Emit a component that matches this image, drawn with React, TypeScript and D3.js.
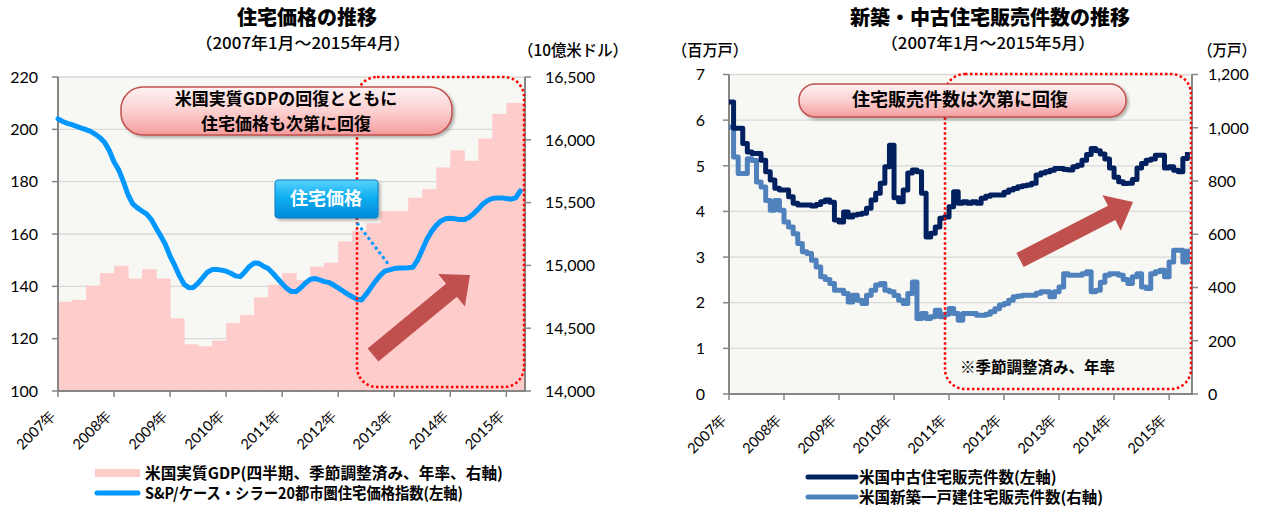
import * as d3 from "d3";

// ---- left chart: house prices vs real GDP ----
// real GDP, quarterly (billion USD, SAAR), one bar per quarter from the 2007 start
const gdpQuarterly = [
  14711, 14726, 14838, 14939, 14996, 14895, 14970, 14896, 14578, 14372, 14356, 14402,
  14541, 14605, 14746, 14846, 14939, 14882, 14990, 15021, 15191, 15275, 15336, 15431,
  15433, 15538, 15607, 15780, 15916, 15832, 16010, 16206, 16294, 16290,
];
// S&P/Case-Shiller 20-city composite, monthly 2007/01 - 2015/04
const caseShiller = [
  204.0, 203.0, 202.3, 201.8, 201.1, 200.5, 199.9, 199.2, 198.1, 196.8, 195.0, 191.8,
  187.5, 184.5, 180.0, 175.0, 171.5, 170.0, 168.8, 167.6, 165.5, 162.3, 159.2, 156.0,
  151.5, 148.0, 144.0, 140.8, 139.5, 139.6, 141.2, 143.3, 145.4, 146.4, 146.4, 146.2,
  145.8, 145.0, 144.0, 143.7, 145.5, 147.6, 148.9, 148.8, 147.7, 146.8, 145.0, 143.0,
  141.0, 139.2, 138.0, 138.0, 139.5, 141.3, 142.6, 143.0, 142.5, 141.8, 141.5, 140.5,
  139.4, 138.2, 137.0, 136.0, 135.1, 134.8, 137.0, 139.5, 142.0, 144.2, 145.8, 146.3,
  146.8, 147.0, 147.0, 147.1, 147.3, 150.0, 154.0, 158.0, 161.0, 163.3, 165.0, 165.8,
  166.0, 165.8, 165.5, 165.5, 166.3, 167.8, 169.5, 171.5, 172.8, 173.6, 173.8, 173.8,
  173.6, 173.3, 173.8, 176.5,
];
const yearLabels = ["2007年", "2008年", "2009年", "2010年", "2011年", "2012年", "2013年", "2014年", "2015年"];
const priceTicks = [100, 120, 140, 160, 180, 200, 220];
const gdpTicks = [14000, 14500, 15000, 15500, 16000, 16500];

// ---- right chart: home sales ----
// existing home sales (million, SAAR), monthly 2007/01 - 2015/05
const existingSales = [
  6.40, 5.82, 5.82, 5.49, 5.30, 5.27, 5.27, 5.12, 4.87, 4.69, 4.51, 4.47,
  4.47, 4.32, 4.18, 4.14, 4.14, 4.14, 4.12, 4.15, 4.21, 4.25, 4.20, 3.81,
  3.77, 3.99, 3.88, 3.92, 3.94, 3.96, 4.07, 4.25, 4.40, 4.62, 4.98, 5.45,
  4.30, 4.21, 4.47, 4.84, 4.91, 4.87, 4.40, 3.44, 3.52, 3.66, 3.85, 3.88,
  4.10, 4.43, 4.18, 4.21, 4.18, 4.21, 4.18, 4.29, 4.33, 4.36, 4.36, 4.36,
  4.42, 4.47, 4.50, 4.54, 4.56, 4.58, 4.62, 4.80, 4.84, 4.87, 4.90, 4.94,
  4.94, 4.92, 4.91, 4.98, 5.01, 5.12, 5.25, 5.38, 5.33, 5.26, 5.15, 4.95,
  4.75, 4.65, 4.61, 4.62, 4.70, 4.95, 5.05, 5.12, 5.15, 5.23, 5.23, 4.95,
  4.98, 4.90, 4.87, 5.16, 5.30,
];
// new single-family home sales (right axis), monthly 2007/01 - 2015/05
const newSales = [
  1002, 890, 828, 828, 884, 877, 796, 777, 727, 690, 727, 690,
  646, 627, 602, 565, 534, 528, 502, 477, 440, 430, 415, 390,
  390, 377, 346, 371, 352, 340, 371, 390, 409, 415, 390, 384,
  370, 352, 340, 377, 421, 284, 302, 284, 290, 315, 290, 300,
  321, 302, 277, 302, 302, 302, 296, 296, 300, 309, 320, 334,
  340, 352, 365, 368, 371, 371, 371, 378, 384, 384, 365, 384,
  402, 452, 446, 446, 446, 452, 459, 384, 390, 420, 446, 452,
  452, 446, 430, 415, 440, 452, 402, 396, 452, 459, 465, 440,
  496, 540, 540, 496, 546,
];
const salesTicks = [0, 1, 2, 3, 4, 5, 6, 7];
const newSalesTicks = [0, 200, 400, 600, 800, 1000, 1200];

const JP = '"Noto Sans CJK JP", sans-serif';
const NUM = 'Lato, "DejaVu Sans", sans-serif';
const AXIS = "#868686";
const GRID = "#d9d9d9";
const PLOT_BG = "#f7f7f3";

function arrowPoints(x1: number, y1: number, x2: number, y2: number, shaft: number, headW: number, headL: number) {
  const len = Math.hypot(x2 - x1, y2 - y1);
  const ux = (x2 - x1) / len, uy = (y2 - y1) / len;
  const nx = -uy, ny = ux;
  const bx = x2 - ux * headL, by = y2 - uy * headL;
  const pts = [
    [x1 + nx * shaft / 2, y1 + ny * shaft / 2],
    [bx + nx * shaft / 2, by + ny * shaft / 2],
    [bx + nx * headW / 2, by + ny * headW / 2],
    [x2, y2],
    [bx - nx * headW / 2, by - ny * headW / 2],
    [bx - nx * shaft / 2, by - ny * shaft / 2],
    [x1 - nx * shaft / 2, y1 - ny * shaft / 2],
  ];
  return pts.map((p) => p.join(",")).join(" ");
}

const fmt = d3.format(",");

export default function App() {
  // left chart scales
  const xL = d3.scaleLinear().domain([0, 100]).range([58, 525]);
  const yPrice = d3.scaleLinear().domain([100, 220]).range([391, 77]);
  const yGdp = d3.scaleLinear().domain([14000, 16500]).range([391, 77]);
  const priceLine = d3
    .line<number>()
    .x((d, i) => xL(i))
    .y((d) => yPrice(d))
    .curve(d3.curveLinear);

  // right chart scales
  const xR = d3.scaleLinear().domain([0, 101]).range([729, 1192]);
  const ySales = d3.scaleLinear().domain([0, 7]).range([394, 74.5]);
  const yNew = d3.scaleLinear().domain([0, 1200]).range([394, 74.5]);
  const existingLine = d3
    .line<number>()
    .x((d, i) => xR(i))
    .y((d) => ySales(d))
    .curve(d3.curveStepAfter);
  const newLine = d3
    .line<number>()
    .x((d, i) => xR(i))
    .y((d) => yNew(d))
    .curve(d3.curveStepAfter);

  const [l0, l1] = xL.range();
  const [r0, r1] = xR.range();

  return (
    <svg width={1264} height={506} style={{ position: "absolute", left: 0, top: 0, background: "#fff" }}>
      <defs>
        <linearGradient id="pinkBox" x1="0" y1="0" x2="0" y2="1">
          <stop offset="0" stopColor="#fff2f2" />
          <stop offset="0.5" stopColor="#fbd0d0" />
          <stop offset="1" stopColor="#f59d9d" />
        </linearGradient>
        <linearGradient id="blueBox" x1="0" y1="0" x2="0" y2="1">
          <stop offset="0" stopColor="#5ad4ff" />
          <stop offset="0.45" stopColor="#10aef0" />
          <stop offset="1" stopColor="#0088d8" />
        </linearGradient>
        <filter id="shadow" x="-10%" y="-20%" width="130%" height="160%">
          <feDropShadow dx="2" dy="2" stdDeviation="1.5" floodColor="#000" floodOpacity="0.3" />
        </filter>
        <clipPath id="leftClip">
          <rect x={l0} y={77} width={l1 - l0} height={314} />
        </clipPath>
      </defs>

      {/* ================= LEFT CHART ================= */}
      <text x={307} y={25} textAnchor="middle" fontFamily={JP} fontWeight={900} fontSize={20}>
        住宅価格の推移
      </text>
      <text x={303} y={49} textAnchor="middle" fontFamily={JP} fontWeight={500} fontSize={16} textLength={215} lengthAdjust="spacingAndGlyphs">
        （2007年1月～2015年4月）
      </text>
      <text x={628} y={56} textAnchor="end" fontFamily={JP} fontWeight={500} fontSize={16} textLength={110} lengthAdjust="spacingAndGlyphs">
        （10億米ドル）
      </text>

      <rect x={l0} y={77} width={l1 - l0} height={314} fill={PLOT_BG} />
      {priceTicks.slice(1).map((t) => (
        <line key={t} x1={l0} x2={l1} y1={yPrice(t)} y2={yPrice(t)} stroke={GRID} strokeWidth={1.3} />
      ))}
      {/* GDP quarterly steps */}
      <g clipPath="url(#leftClip)">
        {gdpQuarterly.map((v, i) => {
          const a = xL(i * 3);
          const b = xL(Math.min((i + 1) * 3, 100));
          return <rect key={i} x={a} y={yGdp(v)} width={b - a + 0.5} height={391 - yGdp(v)} fill="#ffcccc" />;
        })}
      </g>

      {/* axes */}
      <line x1={l0} x2={l0} y1={77} y2={392} stroke={AXIS} strokeWidth={2} />
      <line x1={l1} x2={l1} y1={77} y2={392} stroke={AXIS} strokeWidth={2} />
      <line x1={l0} x2={l1} y1={391} y2={391} stroke={AXIS} strokeWidth={2} />
      {priceTicks.map((t) => (
        <g key={t}>
          <line x1={l0 - 6} x2={l0} y1={yPrice(t)} y2={yPrice(t)} stroke={AXIS} strokeWidth={1.5} />
          <text x={38} y={yPrice(t)} dy="0.36em" textAnchor="end" fontFamily={NUM} fontSize={16}>
            {t}
          </text>
        </g>
      ))}
      {gdpTicks.map((t) => (
        <g key={t}>
          <line x1={l1} x2={l1 + 6} y1={yGdp(t)} y2={yGdp(t)} stroke={AXIS} strokeWidth={1.5} />
          <text x={545} y={yGdp(t)} dy="0.36em" textAnchor="start" fontFamily={NUM} fontSize={16}>
            {fmt(t)}
          </text>
        </g>
      ))}
      {yearLabels.map((lab, i) => (
        <g key={lab}>
          <line x1={xL(i * 12)} x2={xL(i * 12)} y1={391} y2={397} stroke={AXIS} strokeWidth={1.5} />
          <text
            transform={`translate(${xL(i * 12) - 1},416) rotate(-45)`}
            textAnchor="end"
            fontFamily={NUM}
            fontSize={14.5}
          >
            {lab}
          </text>
        </g>
      ))}

      {/* price line */}
      <path
        d={priceLine(caseShiller) || ""}
        fill="none"
        stroke="#0098ff"
        strokeWidth={5}
        strokeLinejoin="round"
        strokeLinecap="round"
      />

      {/* annotations */}
      <rect x={357} y={77} width={167} height={310} rx={20} fill="none" stroke="#ff0000" strokeWidth={2.5} strokeDasharray="2.5 2.5" />
      <line x1={357} y1={223} x2={389} y2={265} stroke="#0098ff" strokeWidth={3} strokeDasharray="3 3" />
      <g filter="url(#shadow)">
        <rect x={121} y={87} width={331} height={48} rx={22} fill="url(#pinkBox)" stroke="#c0504d" strokeWidth={1.5} />
      </g>
      <text x={286} y={99} dy="0.35em" textAnchor="middle" fontFamily={JP} fontWeight={700} fontSize={17}>
        米国実質GDPの回復とともに
      </text>
      <text x={286} y={124} dy="0.35em" textAnchor="middle" fontFamily={JP} fontWeight={700} fontSize={17}>
        住宅価格も次第に回復
      </text>
      <g filter="url(#shadow)">
        <rect x={275} y={180} width={103} height={38} rx={3} fill="url(#blueBox)" stroke="#0a7cc4" strokeWidth={1} />
      </g>
      <text x={326} y={199} dy="0.36em" textAnchor="middle" fontFamily={JP} fontWeight={700} fontSize={18} fill="#fff">
        住宅価格
      </text>
      <polygon points={arrowPoints(373, 355, 470, 275, 17, 42, 24)} fill="#c0504d" />

      {/* legend */}
      <rect x={95} y={469} width={45} height={8} fill="#ffcccc" />
      <text x={145} y={473} dy="0.36em" fontFamily={JP} fontWeight={700} fontSize={15.5} textLength={358} lengthAdjust="spacingAndGlyphs">
        米国実質GDP(四半期、季節調整済み、年率、右軸)
      </text>
      <line x1={97} x2={138} y1={493} y2={493} stroke="#0098ff" strokeWidth={5} strokeLinecap="round" />
      <text x={145} y={493} dy="0.36em" fontFamily={JP} fontWeight={700} fontSize={15.5} textLength={318} lengthAdjust="spacingAndGlyphs">
        S&P/ケース・シラー20都市圏住宅価格指数(左軸)
      </text>

      {/* ================= RIGHT CHART ================= */}
      <text x={990} y={25} textAnchor="middle" fontFamily={JP} fontWeight={900} fontSize={20}>
        新築・中古住宅販売件数の推移
      </text>
      <text x={988} y={49} textAnchor="middle" fontFamily={JP} fontWeight={500} fontSize={16} textLength={214} lengthAdjust="spacingAndGlyphs">
        （2007年1月～2015年5月）
      </text>
      <text x={672} y={56} fontFamily={JP} fontWeight={500} fontSize={16} textLength={76} lengthAdjust="spacingAndGlyphs">
        （百万戸）
      </text>
      <text x={1256} y={56} textAnchor="end" fontFamily={JP} fontWeight={500} fontSize={16} textLength={58} lengthAdjust="spacingAndGlyphs">
        （万戸）
      </text>

      <rect x={r0} y={74.5} width={r1 - r0} height={394 - 74.5} fill={PLOT_BG} />
      {salesTicks.slice(1).map((t) => (
        <line key={t} x1={r0} x2={r1} y1={ySales(t)} y2={ySales(t)} stroke={GRID} strokeWidth={1.3} />
      ))}
      <line x1={r0} x2={r0} y1={74.5} y2={395} stroke={AXIS} strokeWidth={2} />
      <line x1={r1} x2={r1} y1={74.5} y2={395} stroke={AXIS} strokeWidth={2} />
      <line x1={r0} x2={r1} y1={394} y2={394} stroke={AXIS} strokeWidth={2} />
      {salesTicks.map((t) => (
        <g key={t}>
          <line x1={r0 - 6} x2={r0} y1={ySales(t)} y2={ySales(t)} stroke={AXIS} strokeWidth={1.5} />
          <text x={705} y={ySales(t)} dy="0.36em" textAnchor="end" fontFamily={NUM} fontSize={16}>
            {t}
          </text>
        </g>
      ))}
      {newSalesTicks.map((t) => (
        <g key={t}>
          <line x1={r1} x2={r1 + 6} y1={yNew(t)} y2={yNew(t)} stroke={AXIS} strokeWidth={1.5} />
          <text x={1208} y={yNew(t)} dy="0.36em" textAnchor="start" fontFamily={NUM} fontSize={16}>
            {fmt(t)}
          </text>
        </g>
      ))}
      {yearLabels.map((lab, i) => (
        <g key={lab}>
          <line x1={xR(i * 12)} x2={xR(i * 12)} y1={394} y2={400} stroke={AXIS} strokeWidth={1.5} />
          <text
            transform={`translate(${xR(i * 12) - 1},420) rotate(-45)`}
            textAnchor="end"
            fontFamily={NUM}
            fontSize={14.5}
          >
            {lab}
          </text>
        </g>
      ))}

      <path d={newLine(newSales) || ""} fill="none" stroke="#4f81bd" strokeWidth={5} strokeLinejoin="round" />
      <path d={existingLine(existingSales) || ""} fill="none" stroke="#002060" strokeWidth={5} strokeLinejoin="round" />

      <rect x={945} y={74} width={246} height={315} rx={20} fill="none" stroke="#ff0000" strokeWidth={2.5} strokeDasharray="2.5 2.5" />
      <g filter="url(#shadow)">
        <rect x={799} y={84} width={327} height={33} rx={16} fill="url(#pinkBox)" stroke="#c0504d" strokeWidth={1.5} />
      </g>
      <text x={960} y={100} dy="0.35em" textAnchor="middle" fontFamily={JP} fontWeight={700} fontSize={18}>
        住宅販売件数は次第に回復
      </text>
      <text x={960} y={367} dy="0.36em" fontFamily={JP} fontWeight={700} fontSize={15.5}>
        ※季節調整済み、年率
      </text>
      <polygon points={arrowPoints(1020, 260, 1133, 202, 16, 40, 24)} fill="#c0504d" />

      {/* legend */}
      <line x1={808} x2={856} y1={477} y2={477} stroke="#002060" strokeWidth={5} strokeLinecap="round" />
      <text x={859} y={477} dy="0.36em" fontFamily={JP} fontWeight={700} fontSize={15.5}>
        米国中古住宅販売件数(左軸)
      </text>
      <line x1={808} x2={856} y1={497} y2={497} stroke="#4f81bd" strokeWidth={5} strokeLinecap="round" />
      <text x={859} y={497} dy="0.36em" fontFamily={JP} fontWeight={700} fontSize={15.5}>
        米国新築一戸建住宅販売件数(右軸)
      </text>
    </svg>
  );
}
